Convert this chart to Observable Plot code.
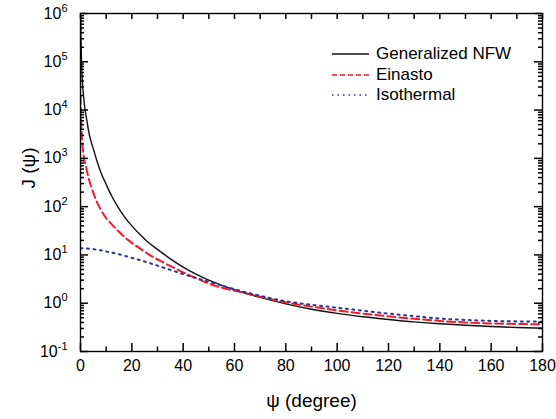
<!DOCTYPE html>
<html><head><meta charset="utf-8">
<script src="https://cdn.jsdelivr.net/npm/d3@7"></script>
<script src="https://cdn.jsdelivr.net/npm/@observablehq/plot@0.6"></script>
<style>
body{margin:0;background:#fff;}
#wrap{position:relative;width:556px;height:419px;font-family:"Liberation Sans",Arial,sans-serif;}
#legend{position:absolute;left:332px;top:44px;font-size:17px;color:#000;}
#legend .row{display:flex;align-items:center;height:20.5px;}
#legend svg{width:37px;height:10px;margin-right:7px;}
</style></head><body><div id="wrap"><div id="legend"></div></div>
<script>
// ---- data ----
const nfwPsi = [0.1, 0.2, 0.4, 0.8, 1.2, 1.8, 2.5, 3.1, 4, 5.2, 6.5, 8, 10, 12, 14.5, 17, 20, 23, 26, 30, 35, 40, 45, 50, 55, 60, 65, 70, 80, 90, 100, 110, 120, 130, 140, 150, 160, 170, 180];
const nfwJ   = [9e5, 3.2e5, 1e5, 3.5e4, 1.9e4, 1e4, 6e3, 3.8e3, 2.35e3, 1.45e3, 850, 500, 290, 172, 100, 63, 40, 27, 19, 13, 8.3, 5.6, 4.0, 3.0, 2.35, 1.9, 1.57, 1.32, 0.97, 0.75, 0.615, 0.525, 0.46, 0.41, 0.375, 0.35, 0.33, 0.315, 0.305];

const einPsi = [0, 0.1, 0.25, 0.5, 0.9, 1.4, 2.2, 3, 4.5, 6, 8, 10, 12, 14.5, 18.5, 23, 27.5, 32.5, 38, 45, 50, 55, 62, 70, 80, 90, 100, 110, 120, 130, 140, 150, 160, 170, 180];
const einJ   = [2e4, 1.1e4, 6e3, 3e3, 1.6e3, 1e3, 660, 420, 230, 140, 85, 58, 44, 32, 20.5, 13.8, 9.6, 6.9, 4.9, 3.3, 2.55, 2.1, 1.72, 1.37, 1.04, 0.85, 0.71, 0.61, 0.535, 0.475, 0.43, 0.4, 0.382, 0.372, 0.366];

const isoPsi = [0, 5, 10, 15, 20, 25, 30, 35, 40, 47, 52, 58, 65, 70, 80, 90, 100, 110, 120, 130, 140, 150, 160, 170, 180];
const isoJ   = [13.8, 13.2, 11.8, 10.3, 8.7, 7.3, 6, 4.9, 4.0, 3.1, 2.6, 2.1, 1.65, 1.42, 1.1, 0.93, 0.81, 0.7, 0.61, 0.54, 0.48, 0.45, 0.43, 0.42, 0.415];

const seriesNames = ["Generalized NFW", "Einasto", "Isothermal"];
const xMajor = [0, 20, 40, 60, 80, 100, 120, 140, 160, 180];
const xMinor = [10, 30, 50, 70, 90, 110, 130, 150, 170];
const yMajor = [0.1, 1, 10, 100, 1e3, 1e4, 1e5, 1e6];
const yTickLabels = ["10^-1", "10^0", "10^1", "10^2", "10^3", "10^4", "10^5", "10^6"];
const xTitle = "ψ (degree)";
const yTitle = "J (ψ)";

// ---- styles ----
const styles = [
  {stroke: "#111", strokeWidth: 1.4, dash: null},
  {stroke: "#ee1d2b", strokeWidth: 2, dash: "8,4"},
  {stroke: "#2a3597", strokeWidth: 2, dash: "2,4.5"}
];

const W = 556, H = 419, mL = 80, mR = 14, mT = 13, mB = 68;
const innerW = W - mL - mR, innerH = H - mT - mB;

const toRows = (p, j) => p.map((v, i) => ({psi: v, J: j[i]}));
const data = [toRows(nfwPsi, nfwJ), toRows(einPsi, einJ), toRows(isoPsi, isoJ)];

const yMinor = [];
for (const d of yMajor.slice(0, -1)) for (let k = 2; k <= 9; k++) yMinor.push(d * k);

const tk = {stroke: "black", strokeWidth: 1.5};
const xTicks = (vals, side, len) => Plot.ruleX(vals, {x: d => d, ...tk,
  ...(side === "bottom" ? {insetTop: innerH - len} : {insetBottom: innerH - len})});
const yTicks = (vals, side, len) => Plot.ruleY(vals, {y: d => d, ...tk,
  ...(side === "left" ? {insetRight: innerW - len} : {insetLeft: innerW - len})});

const chart = Plot.plot({
  width: W, height: H,
  marginLeft: mL, marginRight: mR, marginTop: mT, marginBottom: mB,
  style: {fontFamily: "'Liberation Sans', Arial, sans-serif", fontSize: "16px", color: "black", background: "white"},
  x: {domain: [0, 180]},
  y: {type: "log", domain: [0.1, 1e6]},
  marks: [
    ...data.map((rows, i) => Plot.line(rows, {
      x: "psi", y: "J", stroke: styles[i].stroke, strokeWidth: styles[i].strokeWidth,
      strokeDasharray: styles[i].dash, curve: "monotone-x", clip: true
    })),
    xTicks(xMajor, "bottom", 8),
    xTicks(xMinor, "bottom", 4.5),
    xTicks(xMajor, "top", 6),
    xTicks(xMinor, "top", 6),
    yTicks(yMajor, "left", 8),
    yTicks(yMinor, "left", 4),
    yTicks(yMajor, "right", 8),
    yTicks(yMinor, "right", 4),
    Plot.frame({stroke: "black", strokeWidth: 1.4}),
    Plot.axisX(xMajor, {anchor: "bottom", tickSize: 0, tickPadding: 8, fontSize: 16, stroke: "none", label: null}),
    Plot.axisY(yMajor, {anchor: "left", tickSize: 0, tickPadding: 13, fontSize: 16, stroke: "none", label: null,
      tickFormat: d => yTickLabels[yMajor.indexOf(d)]}),
    Plot.text([xTitle], {frameAnchor: "bottom", dy: 55, fontSize: 19, fill: "black"}),
    Plot.text([yTitle], {frameAnchor: "left", dx: -52, dy: 6, rotate: -90, fontSize: 19, fill: "black"})
  ]
});

// superscripts for the log tick labels
d3.select(chart).selectAll("text").each(function() {
  const t = this.textContent;
  if (t.includes("^") && this.children.length === 0) {
    const [base, exp] = t.split("^");
    this.textContent = base;
    const ts = document.createElementNS("http://www.w3.org/2000/svg", "tspan");
    ts.setAttribute("font-size", "11");
    ts.setAttribute("dy", "-7");
    ts.textContent = exp;
    this.appendChild(ts);
  }
});

const wrap = document.getElementById("wrap");
wrap.insertBefore(chart, wrap.firstChild);

// legend
const legend = d3.select("#legend");
seriesNames.forEach((name, i) => {
  const row = legend.append("div").attr("class", "row");
  const s = row.append("svg").attr("viewBox", "0 0 37 10");
  s.append("line").attr("x1", 0).attr("x2", 37).attr("y1", 5).attr("y2", 5)
    .attr("stroke", styles[i].stroke).attr("stroke-width", i === 0 ? 1.4 : 1.6)
    .attr("stroke-dasharray", i === 1 ? "5,3" : i === 2 ? "1.5,4" : null);
  row.append("span").text(name);
});
</script>
</body></html>
